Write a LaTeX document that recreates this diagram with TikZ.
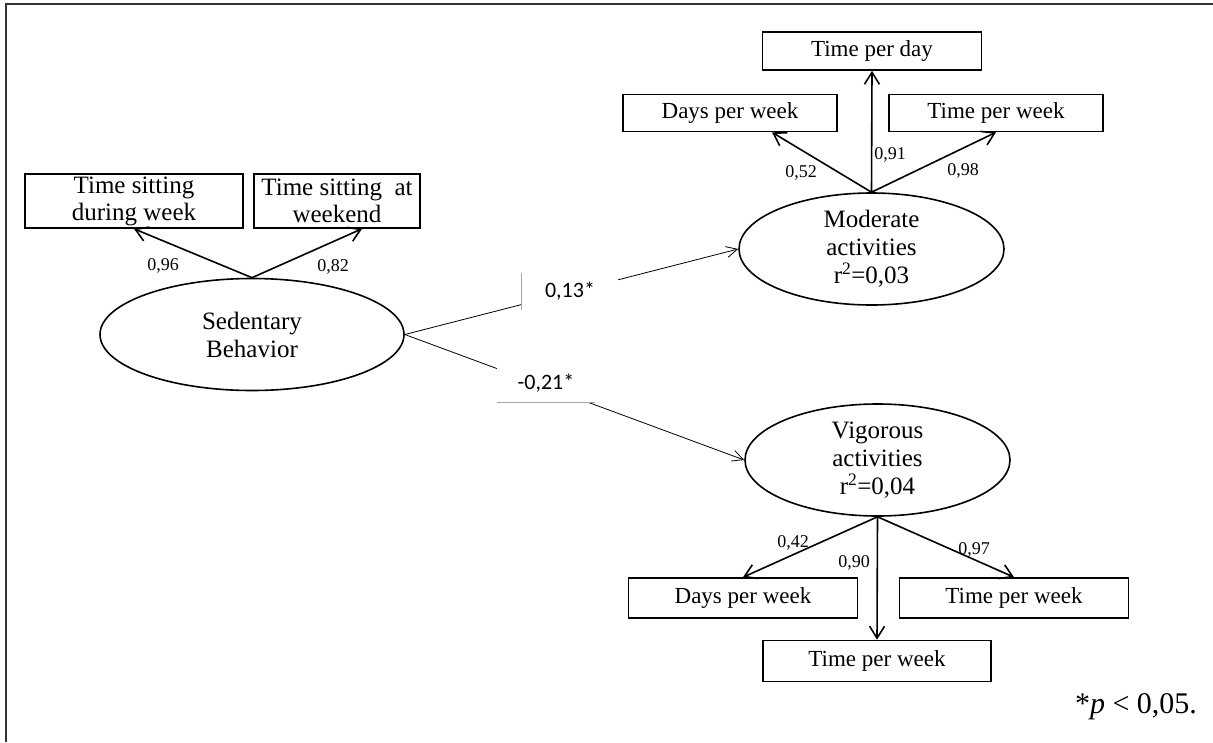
\documentclass[tikz,border=0pt]{standalone}
\usepackage{fontspec}
\setmainfont{Liberation Serif}
\newfontfamily\calfont{Carlito}
\usetikzlibrary{shapes.geometric,arrows.meta}
\begin{document}
\begin{tikzpicture}[x=1pt,y=-1pt,
  obs/.style={draw,line width=1.6pt,rectangle,inner sep=0pt,font=\fontsize{23}{26}\selectfont},
  lat/.style={draw,line width=1.6pt,ellipse,inner sep=0pt,align=center,font=\fontsize{25}{28}\selectfont},
  load/.style={line width=1.6pt,-{Straight Barb[length=12pt,width=15pt,line width=1.6pt]}},
  path/.style={line width=0.8pt,-{Straight Barb[length=11pt,width=11pt,line width=0.8pt]}},
  num/.style={inner sep=0pt,font=\fontsize{18}{20}\selectfont},
  coef/.style={fill=white,inner sep=0pt,font=\calfont\fontsize{22}{24}\selectfont},
  frame/.style={draw=black!80,line width=1.6pt}]
\useasboundingbox (0,0) rectangle (1213,742);
\draw[frame] (6,742) coordinate (fa) -- (6,4) coordinate (fb) -- (1213,4) coordinate (fc);

% Sedentary
\node[lat,minimum width=304pt,minimum height=112pt] (sed) at (252,334.5) {Sedentary\\Behavior};
\node[obs,minimum width=218pt,minimum height=54pt,align=center,font=\fontsize{25}{27}\selectfont] (tsw) at (134,201) {Time sitting\\during week};
\node[obs,minimum width=166pt,minimum height=54pt,align=center,font=\fontsize{25}{27}\selectfont] (tsk) at (337,201) {Time sitting\ \ at\\weekend};
\draw[load] (sed.north) -- (tsw.south);
\draw[load] (sed.north) -- ([xshift=25pt]tsk.south);
\node[num] (l96) at (163,266) {0,96};
\node[num] (l82) at (333,267) {0,82};

% Moderate
\node[lat,minimum width=265pt,minimum height=112pt] (mod) at (871.5,249) {Moderate\\activities\\r\textsuperscript{2}=0,03};
\node[obs,minimum width=219pt,minimum height=38pt] (mtd) at (872,51) {Time per day};
\node[obs,minimum width=214pt,minimum height=37pt] (mdw) at (730,113) {Days per week};
\node[obs,minimum width=214pt,minimum height=37pt] (mtw) at (996,113) {Time per week};
\draw[load] (mod.north) -- (mtd.south);
\draw[load] (mod.north) -- ([xshift=42pt]mdw.south);
\draw[load] (mod.north) -- (mtw.south);
\node[num] (l52) at (801,173) {0,52};
\node[num] (l91) at (890,155) {0,91};
\node[num] (l98) at (963,171) {0,98};

% Vigorous
\node[lat,minimum width=265pt,minimum height=112pt] (vig) at (877.5,460) {Vigorous\\activities\\r\textsuperscript{2}=0,04};
\node[obs,minimum width=229pt,minimum height=40pt] (vdw) at (743,598) {Days per week};
\node[obs,minimum width=229pt,minimum height=40pt] (vtr) at (1014,598) {Time per week};
\node[obs,minimum width=228pt,minimum height=41pt] (vtb) at (877,661) {Time per week};
\draw[load] (vig.south) -- (vdw.north);
\draw[load] (vig.south) -- (vtr.north);
\draw[load] (vig.south) -- (vtb.north);
\node[num] (l42) at (793,543) {0,42};
\node[num] (l90) at (854,563) {0,90};
\node[num] (l97) at (974,550) {0,97};

% structural paths
\draw[path] (sed.east) -- (mod.west);
\draw[path] (sed.east) -- (vig.west);
\node[coef,minimum width=96pt,minimum height=37pt] (c1) at (570,291.5) {0,13*};
\node[coef,minimum width=98pt,minimum height=38pt] (c2) at (546,383) {-0,21*};
\draw[black!35,line width=0.8pt] (c1.north west) -- (c1.south west);
\draw[black!35,line width=0.8pt] (c2.south west) -- (c2.south east);

\node[inner sep=0pt,font=\fontsize{30}{32}\selectfont] (note) at (1136,707) {*\textit{p} < 0,05.};
\end{tikzpicture}
\end{document}
